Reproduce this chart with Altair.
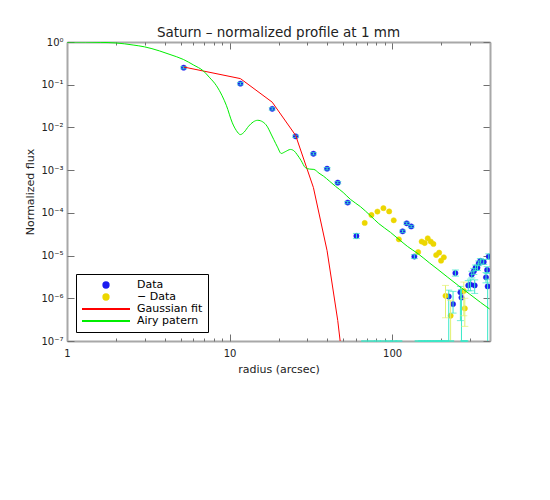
import altair as alt
import pandas as pd

# ---------------- data ----------------
blue_x = [5.22, 11.66, 18.3, 25.5, 32.8, 39.8, 46.3, 53.3, 60.3, 116, 123, 131, 137,
          223, 237, 245, 263, 267, 294, 303, 309, 318, 322, 326, 335, 341, 349, 366,
          378, 384, 387, 393]
blue_y = [0.25, 0.106, 0.0272, 0.0062, 0.00242, 0.00108, 5.1e-4, 1.74e-4, 2.88e-5,
          3.7e-5, 5.7e-5, 4.8e-5, 9.5e-6,
          1.1e-6, 7.3e-7, 3.9e-6, 1.38e-6, 1.04e-6, 2.0e-6, 2.1e-6, 3.6e-6, 4.3e-6,
          2.0e-6, 5.2e-6, 5.2e-6, 6.6e-6, 7.5e-6, 7.1e-6, 3.1e-6, 4.6e-6, 1.9e-6, 9.5e-6]
blue_lo = [0.235, 0.099, 0.0255, 0.0058, 0.00227, 0.00101, 4.8e-4, 1.63e-4, 2.5e-5,
           3.45e-5, 5.35e-5, 4.5e-5, 8.5e-6,
           1e-9, 4.5e-7, 3.3e-6, 3.0e-7, 1e-9, 1.5e-6, 1.5e-6, 3.0e-6, 3.6e-6,
           1.3e-6, 4.5e-6, 4.5e-6, 5.8e-6, 6.6e-6, 6.2e-6, 2.3e-6, 3.8e-6, 1e-9, 8.2e-6]
blue_hi = [0.265, 0.113, 0.029, 0.0066, 0.00257, 0.00115, 5.4e-4, 1.85e-4, 3.3e-5,
           3.95e-5, 6.05e-5, 5.1e-5, 1.05e-5,
           1.55e-6, 1.45e-6, 4.6e-6, 1.9e-6, 1.6e-6, 2.6e-6, 2.8e-6, 4.3e-6, 5.0e-6,
           2.7e-6, 6.0e-6, 6.0e-6, 7.5e-6, 8.5e-6, 8.1e-6, 4.0e-6, 5.5e-6, 2.8e-6, 1.1e-5]

neg_x = [67.8, 74.6, 81.2, 88.4, 95.9, 102.3, 110, 144.6, 152, 158.6, 165.6, 172.8,
         179.5, 186.6, 194.6, 200, 208, 213, 229, 276, 280]
neg_y = [5.8e-5, 8.9e-5, 1.07e-4, 1.29e-4, 1.08e-4, 6.7e-5, 2.4e-5, 1.21e-5, 2.13e-5,
         1.97e-5, 2.54e-5, 2.13e-5, 1.87e-5, 1.03e-5, 1.17e-5, 7.6e-6, 9.1e-6,
         1.14e-6, 3.9e-7, 1.49e-6, 5.8e-7]
negbar_x = [213, 229, 276, 280]
negbar_lo = [3.5e-7, 1e-9, 3.9e-7, 2.2e-7]
negbar_hi = [2.0e-6, 9.0e-7, 2.4e-6, 1.0e-6]

gauss_x = [5.22, 11.66, 18.3, 25.5, 32.8, 39.8, 46.3, 53.3]
gauss_y = [0.26, 0.139, 0.039, 0.0065, 3.9e-4, 1.3e-5, 3.0e-7, 3.0e-9]

airy_x = [1.0, 1.3, 1.6, 2.0, 2.55, 3.0, 3.7, 4.3, 5.2, 6.0, 6.9, 7.5, 8.3, 9.0, 9.55,
          10.4, 11.0, 11.66, 12.3, 13.1, 14.0, 14.9, 16.0, 17.0, 18.0, 18.7, 19.7,
          20.8, 22.0, 23.7, 25.0, 26.0, 27.5, 29.3, 31.0, 33.0, 35.5, 37.9, 41.0,
          44.8, 50.0, 55.4, 63.8, 73.5, 82.8, 97.7, 110, 124, 144.6, 170, 189, 220,
          257, 300, 350, 398]
airy_y = [1.0, 0.995, 0.98, 0.95, 0.85, 0.77, 0.62, 0.51, 0.39, 0.29, 0.21, 0.15,
          0.095, 0.055, 0.033, 0.0128, 0.0085, 0.0068, 0.0078, 0.0107, 0.0135, 0.0147,
          0.0135, 0.0107, 0.0070, 0.0052, 0.0035, 0.00246, 0.0027, 0.00305, 0.0028,
          0.00233, 0.0017, 0.00114, 0.00106, 0.00104, 0.00085, 0.00072, 0.00056,
          0.00042, 0.00030, 2.07e-4, 1.40e-4, 8.6e-5, 5.6e-5, 3.5e-5, 2.4e-5, 1.65e-5,
          1.1e-5, 6.7e-6, 4.9e-6, 3.1e-6, 1.95e-6, 1.25e-6, 8.0e-7, 5.6e-7]

SERIES = ["Data", "\u2212 Data", "Gaussian fit", "Airy patern"]
COLORS = ["#1c1cf0", "#ecd600", "#ff0000", "#00ee00"]
SHAPES = ["circle", "circle", "stroke", "stroke"]
SIZES = [28, 28, 2304, 2304]

X_DOMAIN = [1, 400]
Y_DOMAIN = [1e-7, 1]
X_MAJOR = [1, 10, 100]
X_MINOR = [2, 3, 4, 5, 6, 7, 8, 9, 20, 30, 40, 50, 60, 70, 80, 90, 200, 300, 400]
Y_MAJOR = [1e-7, 1e-6, 1e-5, 1e-4, 1e-3, 1e-2, 1e-1, 1]

# ---------------- tables ----------------
pts = pd.DataFrame({
    "x": blue_x + neg_x,
    "y": blue_y + neg_y,
    "series": [SERIES[0]] * len(blue_x) + [SERIES[1]] * len(neg_x),
})
berr = pd.DataFrame({"x": blue_x, "lo": blue_lo, "hi": blue_hi})
nerr = pd.DataFrame({"x": negbar_x, "lo": negbar_lo, "hi": negbar_hi})
negraw = pd.DataFrame({"x": neg_x, "v": [-v for v in neg_y]})
gauss = pd.DataFrame({"x": gauss_x, "y": gauss_y, "series": SERIES[2]})
airy = pd.DataFrame({"x": airy_x, "y": airy_y, "series": SERIES[3]})

W, H = 423, 299
FONT = "DejaVu Sans"
GRAY = "#a8a8a8"
TICK = "#707070"
CYAN = "#38e8c8"
YBAR = "#e2f070"

xs = alt.Scale(type="log", domain=X_DOMAIN, nice=False)
ys = alt.Scale(type="log", domain=Y_DOMAIN, nice=False)

sup = "['\u2070','\u207b\u00b9','\u207b\u00b2','\u207b\u00b3','\u207b\u2074','\u207b\u2075','\u207b\u2076','\u207b\u2077']"

ax_x_main = alt.Axis(orient="bottom", values=X_MAJOR, format="d", ticks=False, tickSize=0,
                     domainColor=GRAY, domainWidth=2, labelFont=FONT, labelFontSize=10,
                     labelColor="#222222", labelPadding=7, labelFlush=False,
                     title="radius (arcsec)", titleFont=FONT, titleFontSize=11,
                     titleFontWeight="normal", titleColor="#222222", titlePadding=5, grid=False)
ax_y_main = alt.Axis(orient="left", values=Y_MAJOR, labelExpr="'10' + " + sup + "[round(-log(datum.value)/LN10)]",
                     ticks=False, tickSize=0, domainColor=GRAY, domainWidth=2,
                     labelFont=FONT, labelFontSize=10, labelColor="#222222", labelPadding=4,
                     labelFlush=False, title="Normalized flux", titleFont=FONT, titleFontSize=11,
                     titleFontWeight="normal", titleColor="#222222", titlePadding=5, grid=False)

def tick_axis(orient, offset, values, size, domain=False):
    return alt.Axis(orient=orient, offset=offset, values=values, labels=False, domain=domain,
                    domainColor=GRAY, domainWidth=2, tickSize=size, tickColor=TICK,
                    tickWidth=1, grid=False, title="")

ax_x_bot_major = tick_axis("top", -H, X_MAJOR, 7)
ax_x_bot_minor = tick_axis("top", -H, X_MINOR, 3)
ax_x_top_major = tick_axis("bottom", -H, X_MAJOR, 7, domain=True)
ax_x_top_minor = tick_axis("bottom", -H, X_MINOR, 3)
ax_y_left_in = tick_axis("right", -W, Y_MAJOR, 7)
ax_y_right = tick_axis("left", -W, Y_MAJOR, 7, domain=True)

leg = alt.Legend(title=None, orient="none", legendX=9, legendY=232, padding=5,
                 strokeColor="black", fillColor="white", clipHeight=12, rowPadding=0,
                 symbolStrokeWidth=2, symbolOpacity=1, labelFont=FONT, labelFontSize=11,
                 labelColor="black", labelOffset=6)

sc_color = alt.Scale(domain=SERIES, range=COLORS)

points = alt.Chart(pts).mark_point(filled=True, opacity=1, strokeWidth=0.5, clip=True).encode(
    x=alt.X("x:Q", scale=xs, axis=ax_x_main),
    y=alt.Y("y:Q", scale=ys, axis=ax_y_main),
    fill=alt.Fill("series:N", scale=sc_color, legend=leg),
    stroke=alt.Stroke("series:N", scale=sc_color, legend=leg),
    shape=alt.Shape("series:N", scale=alt.Scale(domain=SERIES, range=SHAPES), legend=leg),
    size=alt.Size("series:N", scale=alt.Scale(type="ordinal", domain=SERIES, range=SIZES), legend=leg),
)

berr_rule = alt.Chart(berr).mark_rule(color=CYAN, strokeWidth=1, clip=True).encode(
    x=alt.X("x:Q", scale=xs, axis=ax_x_bot_major),
    y=alt.Y("lo:Q", scale=ys, axis=ax_y_left_in),
    y2="hi:Q",
)
berr_lo = alt.Chart(berr).mark_tick(color=CYAN, orient="horizontal", size=7, thickness=1, clip=True).encode(
    x=alt.X("x:Q", scale=xs, axis=ax_x_bot_minor),
    y=alt.Y("lo:Q", scale=ys, axis=ax_y_right),
)
berr_hi = alt.Chart(berr).mark_tick(color=CYAN, orient="horizontal", size=7, thickness=1, clip=True).encode(
    x=alt.X("x:Q", scale=xs, axis=ax_x_top_major),
    y=alt.Y("hi:Q", scale=ys, axis=None),
)
nerr_rule = alt.Chart(nerr).mark_rule(color=YBAR, strokeWidth=1, clip=True).encode(
    x=alt.X("x:Q", scale=xs, axis=ax_x_top_minor),
    y=alt.Y("lo:Q", scale=ys, axis=None),
    y2="hi:Q",
)
nerr_caps = alt.Chart(nerr).transform_fold(["lo", "hi"], as_=["k", "val"]).mark_tick(
    color=YBAR, orient="horizontal", size=7, thickness=1, clip=True).encode(
    x=alt.X("x:Q", scale=xs, axis=None),
    y=alt.Y("val:Q", scale=ys, axis=None),
)
# negative values clip onto the lower frame, as in the original plot
neg_caps = alt.Chart(negraw).transform_calculate(
    yc="max(datum.v, %g)" % Y_DOMAIN[0]).mark_tick(
    color=CYAN, orient="horizontal", size=7, thickness=2).encode(
    x=alt.X("x:Q", scale=xs, axis=None),
    y=alt.Y("yc:Q", scale=ys, axis=None),
)
gauss_line = alt.Chart(gauss).mark_line(strokeWidth=1, clip=True).encode(
    x=alt.X("x:Q", scale=xs, axis=None),
    y=alt.Y("y:Q", scale=ys, axis=None),
    stroke=alt.Stroke("series:N", scale=sc_color, legend=leg),
)
airy_line = alt.Chart(airy).mark_line(strokeWidth=1, clip=True, interpolate="monotone").encode(
    x=alt.X("x:Q", scale=xs, axis=None),
    y=alt.Y("y:Q", scale=ys, axis=None),
    stroke=alt.Stroke("series:N", scale=sc_color, legend=leg),
)

chart = alt.layer(
    points, berr_rule, berr_lo, berr_hi, nerr_rule, nerr_caps, neg_caps, gauss_line, airy_line
).resolve_axis(x="independent", y="independent").properties(
    width=W, height=H,
    title=alt.TitleParams("Saturn \u2013 normalized profile at 1 mm", font=FONT, fontSize=13.5,
                          fontWeight="normal", color="#222222", anchor="middle", offset=-2),
    autosize=alt.AutoSizeParams(type="none"),
    padding={"left": 59, "top": 34, "right": 50, "bottom": 140},
).configure_view(strokeWidth=0)

chart.save("out.html", embed_options={"renderer": "svg", "actions": False})
